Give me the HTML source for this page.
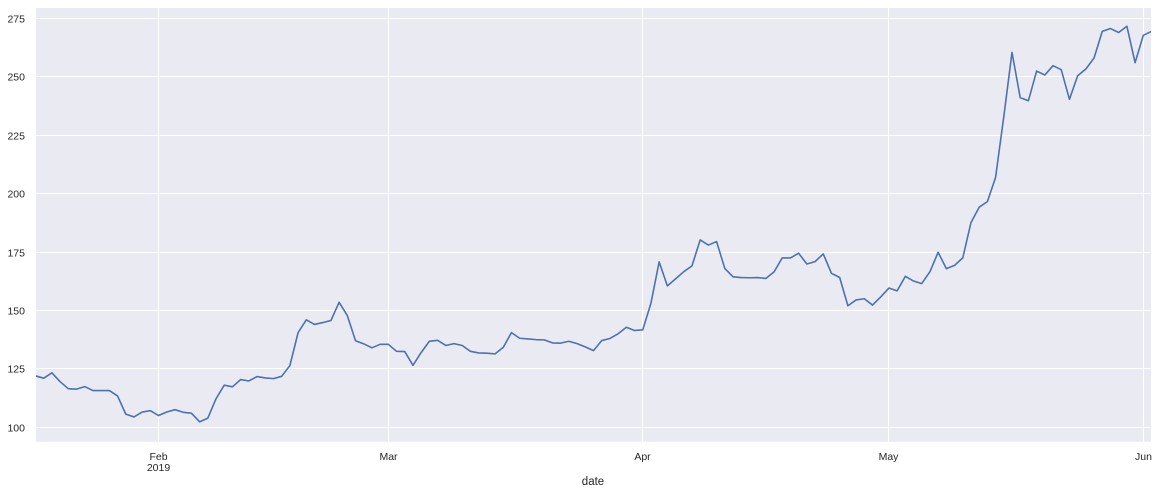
<!DOCTYPE html>
<html>
<head>
<meta charset="utf-8">
<title>Price by date</title>
<style>
  html, body { margin: 0; padding: 0; background: #fff; }
  svg { display: block; font-family: "Liberation Sans", Arial, sans-serif; }
  text { fill: #262626; font-size: 10.5px; }
</style>
</head>
<body>
<svg id="chart" width="1158" height="494" viewBox="0 0 1158 494" xmlns="http://www.w3.org/2000/svg">
  <defs>
    <clipPath id="plot-clip"><rect x="36" y="8" width="1115" height="433.7"></rect></clipPath>
  </defs>
  <rect x="36" y="8" width="1115" height="433.7" fill="#eaeaf2"></rect>
  <g id="grid"></g>
  <g id="series" clip-path="url(#plot-clip)"></g>
  <g id="y-ticks"></g>
  <g id="x-ticks"></g>
  <text x="593" y="485" text-anchor="middle" style="font-size:11.5px">date</text>
</svg>
<script>
const startDate = '2019-01-17';
const values = [
  122, 121, 123.3, 119.5, 116.5, 116.3, 117.4, 115.7, 115.7, 115.7, 113.4, 105.6, 104.4, 106.5, 107.1,
  105, 106.5, 107.5, 106.4, 106, 102.3, 103.9, 112.2, 118, 117.3, 120.4, 119.8, 121.7, 121.1, 120.8, 121.8, 126.4, 140.5, 146, 144, 144.8, 145.7, 153.5, 147.8, 137, 135.7, 134, 135.5,
  135.5, 132.5, 132.4, 126.5, 132, 136.8, 137.2, 135, 135.8, 135, 132.5, 131.8, 131.7, 131.4, 134.2, 140.5, 138.1, 137.8, 137.5, 137.4, 136.1, 136, 136.8, 135.8, 134.4, 132.8, 137.1, 138, 140, 142.8, 141.4,
  141.7, 153.1, 170.8, 160.5, 163.5, 166.6, 169.1, 180.2, 178, 179.5, 168, 164.4, 164.1, 164, 164.1, 163.7, 166.5, 172.5, 172.5, 174.5, 169.9, 170.9, 174.2, 165.9, 164.1, 152, 154.5, 155, 152.3, 155.8,
  159.6, 158.4, 164.6, 162.6, 161.5, 166.6, 174.9, 167.9, 169.3, 172.5, 187.6, 194.2, 196.6, 207, 233, 260.5, 241.1, 239.8, 252.5, 250.8, 254.8, 253.1, 240.4, 250.5, 253.4, 258.1, 269.5, 270.7, 269, 271.7, 256.1,
  267.8, 269.5
];
const yTicks = [100, 125, 150, 175, 200, 225, 250, 275];
const xTickDates = ['2019-02-01', '2019-03-01', '2019-04-01', '2019-05-01', '2019-06-01'];
const xTickLabels = ['Feb', 'Mar', 'Apr', 'May', 'Jun'];
const xTickSubLabels = ['2019', '', '', '', ''];

const NS = 'http://www.w3.org/2000/svg';
const DAY = 86400000;
const PLOT = { left: 35.5, right: 1151.5, top: 8, bottom: 441.7 };
const Y_DOMAIN = [93.8, 279.5];
const start = Date.parse(startDate);
const dayCount = values.length - 1;

function xScale(dayIndex) {
  return PLOT.left + (dayIndex / dayCount) * (PLOT.right - PLOT.left);
}
function yScale(v) {
  return PLOT.bottom - ((v - Y_DOMAIN[0]) / (Y_DOMAIN[1] - Y_DOMAIN[0])) * (PLOT.bottom - PLOT.top);
}
function dayOf(iso) {
  return (Date.parse(iso) - start) / DAY;
}
function snap(p) {
  return Math.floor(p) + 0.5;
}
function make(tag, attrs, parent) {
  const el = document.createElementNS(NS, tag);
  for (const k in attrs) el.setAttribute(k, attrs[k]);
  parent.appendChild(el);
  return el;
}

const grid = document.getElementById('grid');
const yGroup = document.getElementById('y-ticks');
const xGroup = document.getElementById('x-ticks');
const seriesGroup = document.getElementById('series');

yTicks.forEach(function (t) {
  const py = snap(yScale(t));
  const line = make('line', { x1: 36, x2: 1151, y1: py, y2: py, stroke: '#ffffff', 'stroke-width': 1 }, grid);
  
  
  const label = make('text', { x: 25, y: py + 4, 'text-anchor': 'end' }, yGroup);
  
  
  label.textContent = t;
});

xTickDates.forEach(function (d, i) {
  const px = snap(xScale(dayOf(d)));
  const line = make('line', { x1: px, x2: px, y1: 8, y2: 441.7, stroke: '#ffffff', 'stroke-width': 1 }, grid);
  
  
  const label = make('text', { x: px, y: 460, 'text-anchor': 'middle' }, xGroup);
  
  
  label.textContent = xTickLabels[i];
  if (xTickSubLabels[i]) {
    const sub = make('text', { x: px, y: 471, 'text-anchor': 'middle' }, xGroup);
    
    
    sub.textContent = xTickSubLabels[i];
  }
});

const points = values.map(function (v, i) {
  return xScale(i).toFixed(2) + ',' + yScale(v).toFixed(2);
}).join(' ');
const path = make('polyline', {
  points: points,
  fill: 'none',
  stroke: '#4c72b0',
  'stroke-width': 1.6,
  'stroke-linejoin': 'round',
  'stroke-linecap': 'square'
}, seriesGroup);


</script>
</body>
</html>
